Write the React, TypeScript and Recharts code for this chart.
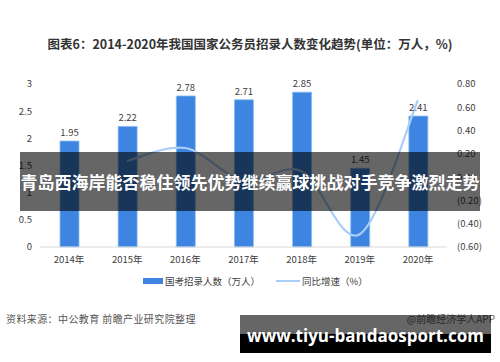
import React from 'react';
import { ComposedChart, Bar, Line, XAxis, YAxis, LabelList } from 'recharts';

const years = ['2014年', '2015年', '2016年', '2017年', '2018年', '2019年', '2020年'];
const hires = [1.95, 2.22, 2.78, 2.71, 2.85, 1.45, 2.41];
const growth = [null, 0.14, 0.25, -0.03, 0.05, -0.49, 0.66];
const leftTicks = [0, 0.5, 1, 1.5, 2, 2.5, 3];
const rightTicks = [-0.6, -0.4, -0.2, 0, 0.2, 0.4, 0.6, 0.8];

const data = years.map((y, i) => ({ year: y, hires: hires[i], growth: growth[i] }));

const FONT = '"Noto Sans CJK SC", "Noto Sans", sans-serif';

// Catmull-Rom style smoothing similar to spreadsheet "smoothed line"
function smoothCurve(context: any) {
  let pts: number[][] = [];
  return {
    areaStart() {},
    areaEnd() {},
    lineStart() { pts = []; },
    point(x: number, y: number) { pts.push([+x, +y]); },
    lineEnd() {
      const n = pts.length;
      if (!n) return;
      context.moveTo(pts[0][0], pts[0][1]);
      if (n === 1) return;
      for (let i = 0; i < n - 1; i++) {
        const p0 = pts[i - 1] || pts[i];
        const p1 = pts[i];
        const p2 = pts[i + 1];
        const p3 = pts[i + 2] || pts[i + 1];
        const c1x = p1[0] + (p2[0] - p0[0]) / 6;
        const c1y = p1[1] + (p2[1] - p0[1]) / 6;
        const c2x = p2[0] - (p3[0] - p1[0]) / 6;
        const c2y = p2[1] - (p3[1] - p1[1]) / 6;
        context.bezierCurveTo(c1x, c1y, c2x, c2y, p2[0], p2[1]);
      }
    },
  };
}

const fmtRight = (v: number) => {
  const s = Math.abs(v).toFixed(2);
  return v < -0.0001 ? `(${s})` : s;
};

export default function App() {
  return (
    <div style={{ position: 'absolute', left: 0, top: 0, width: 500, height: 362, background: '#fff', overflow: 'hidden', fontFamily: FONT }}>
      <div style={{ position: 'absolute', left: 0, top: 34, width: 500, textAlign: 'center', fontSize: 12.5, fontWeight: 700, color: '#333', whiteSpace: 'nowrap' }}>
        图表6：2014-2020年我国国家公务员招录人数变化趋势(单位：万人，%)
      </div>
      <div style={{ position: 'absolute', left: 0, top: 0 }}>
        <ComposedChart width={500} height={362} data={data} margin={{ top: 84, right: 0, bottom: 85, left: 0 }}>
          <XAxis
            dataKey="year"
            height={30}
            axisLine={{ stroke: '#d9d9d9' }}
            tickLine={false}
            tickSize={0}
            tickMargin={9}
            tick={{ fontSize: 9.5, fill: '#404040', fontFamily: FONT }}
            interval={0}
          />
          <YAxis
            yAxisId="left"
            width={40}
            domain={[0, 3]}
            ticks={leftTicks}
            axisLine={false}
            tickLine={false}
            tickSize={0}
            tickMargin={8}
            tick={{ fontSize: 9.5, fill: '#404040', fontFamily: FONT }}
            tickFormatter={(v: number) => String(v)}
          />
          <YAxis
            yAxisId="right"
            orientation="right"
            width={53}
            domain={[-0.6, 0.8]}
            ticks={rightTicks}
            axisLine={false}
            tickLine={false}
            tickSize={0}
            tickMargin={10}
            tick={{ fontSize: 9.5, fill: '#404040', fontFamily: FONT }}
            tickFormatter={fmtRight}
          />
          <Bar yAxisId="left" dataKey="hires" fill="#3d85e0" stroke="#8cbcf2" strokeWidth={0.8} barSize={19} isAnimationActive={false}>
            <LabelList dataKey="hires" position="top" offset={5} style={{ fontSize: 9.5, fill: '#404040', fontFamily: FONT }} formatter={(v: number) => v.toFixed(2)} />
          </Bar>
          <Line
            yAxisId="right"
            dataKey="growth"
            type={smoothCurve as any}
            stroke="#a9cdf6"
            strokeWidth={2.2}
            dot={false}
            activeDot={false}
            isAnimationActive={false}
          />
        </ComposedChart>
      </div>

      {/* legend */}
      <div style={{ position: 'absolute', left: 143, top: 274, display: 'flex', alignItems: 'center', fontSize: 9.5, color: '#404040', whiteSpace: 'nowrap' }}>
        <span style={{ display: 'inline-block', width: 20, height: 6, background: '#3d85e0', marginRight: 2 }} />
        <span>国考招录人数（万人）</span>
        <span style={{ display: 'inline-block', width: 24, height: 2, background: '#a9cdf6', marginLeft: 16, marginRight: 2 }} />
        <span>同比增速（%）</span>
      </div>

      {/* source */}
      <div style={{ position: 'absolute', left: 6, top: 311, fontSize: 10, letterSpacing: 0.4, color: '#555', whiteSpace: 'nowrap' }}>
        资料来源：中公教育 前瞻产业研究院整理
      </div>
      <div style={{ position: 'absolute', right: 5, top: 311, fontSize: 10, color: '#666', whiteSpace: 'nowrap' }}>
        @前瞻经济学人APP
      </div>

      {/* overlay banner */}
      <div style={{ position: 'absolute', left: 20, top: 152, width: 460, height: 59, background: 'rgba(0,0,0,0.6)' }} />
      <div style={{ position: 'absolute', left: 20, top: 152, width: 460, height: 59, display: 'flex', alignItems: 'center', justifyContent: 'center', color: '#fff', fontSize: 17, fontWeight: 700, whiteSpace: 'nowrap' }}>
        青岛西海岸能否稳住领先优势继续赢球挑战对手竞争激烈走势
      </div>

      {/* bottom banner */}
      <div style={{ position: 'absolute', left: 240, top: 315, width: 251, height: 38, background: 'rgba(0,0,0,0.6)' }} />
      <div style={{ position: 'absolute', left: 240, top: 334, width: 251, height: 19, background: '#000' }} />
      <div style={{ position: 'absolute', left: 240, top: 316, width: 251, height: 38, display: 'flex', alignItems: 'center', justifyContent: 'center', color: '#fff', fontSize: 17, fontWeight: 700, fontFamily: '"Open Sans", sans-serif', whiteSpace: 'nowrap' }}>
        www.tiyu-bandaosport.com
      </div>
    </div>
  );
}
